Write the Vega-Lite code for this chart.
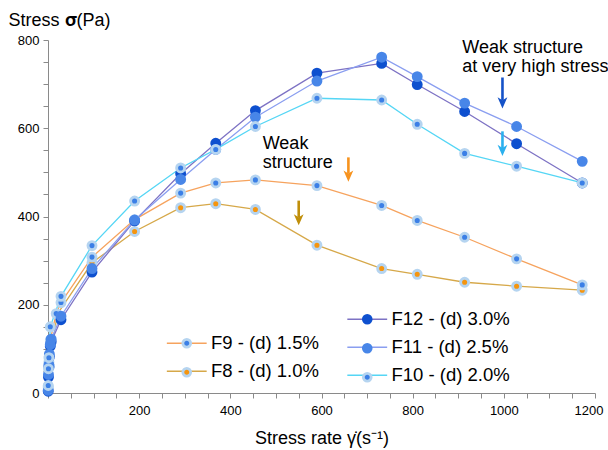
{
  "$schema": "https://vega.github.io/schema/vega-lite/v6.json",
  "width": 547,
  "height": 353,
  "autosize": {"type": "none"},
  "padding": {"left": 48, "top": 40, "right": 13, "bottom": 57},
  "background": "white",
  "config": {
    "view": {"stroke": null},
    "font": "Liberation Sans",
    "axis": {"grid": false, "domainColor": "#8a8a8a", "tickColor": "#8a8a8a", "tickSize": 5, "labelFont": "Liberation Sans", "labelFontSize": 13, "labelColor": "#000000", "titleFont": "Liberation Sans", "titleFontSize": 18, "titleFontWeight": "normal", "titleColor": "#000000"},
    "legend": {"labelFont": "Liberation Sans", "labelFontSize": 18.5, "labelColor": "#000000", "padding": 0, "rowPadding": 9, "symbolSize": 61, "labelOffset": 15}
  },
  "datasets": {
    "curves": [
      {"s": "F8 - (d) 1.0%", "rate": 0.5, "stress": 15},
      {"s": "F8 - (d) 1.0%", "rate": 3, "stress": 60},
      {"s": "F8 - (d) 1.0%", "rate": 20, "stress": 178},
      {"s": "F8 - (d) 1.0%", "rate": 96.5, "stress": 295},
      {"s": "F8 - (d) 1.0%", "rate": 190, "stress": 366},
      {"s": "F8 - (d) 1.0%", "rate": 291, "stress": 420},
      {"s": "F8 - (d) 1.0%", "rate": 368, "stress": 429},
      {"s": "F8 - (d) 1.0%", "rate": 455, "stress": 416},
      {"s": "F8 - (d) 1.0%", "rate": 590, "stress": 335},
      {"s": "F8 - (d) 1.0%", "rate": 732, "stress": 282},
      {"s": "F8 - (d) 1.0%", "rate": 810, "stress": 269},
      {"s": "F8 - (d) 1.0%", "rate": 914, "stress": 251},
      {"s": "F8 - (d) 1.0%", "rate": 1028, "stress": 242},
      {"s": "F8 - (d) 1.0%", "rate": 1172, "stress": 233},
      {"s": "F9 - (d) 1.5%", "rate": 0.5, "stress": 12},
      {"s": "F9 - (d) 1.5%", "rate": 2, "stress": 70},
      {"s": "F9 - (d) 1.5%", "rate": 5, "stress": 120},
      {"s": "F9 - (d) 1.5%", "rate": 18, "stress": 180},
      {"s": "F9 - (d) 1.5%", "rate": 28.5, "stress": 205},
      {"s": "F9 - (d) 1.5%", "rate": 96.5, "stress": 308},
      {"s": "F9 - (d) 1.5%", "rate": 190, "stress": 393},
      {"s": "F9 - (d) 1.5%", "rate": 291, "stress": 453},
      {"s": "F9 - (d) 1.5%", "rate": 368, "stress": 476},
      {"s": "F9 - (d) 1.5%", "rate": 455, "stress": 483},
      {"s": "F9 - (d) 1.5%", "rate": 590, "stress": 470},
      {"s": "F9 - (d) 1.5%", "rate": 732, "stress": 425},
      {"s": "F9 - (d) 1.5%", "rate": 810, "stress": 391},
      {"s": "F9 - (d) 1.5%", "rate": 914, "stress": 353},
      {"s": "F9 - (d) 1.5%", "rate": 1028, "stress": 304},
      {"s": "F9 - (d) 1.5%", "rate": 1172, "stress": 245},
      {"s": "F12 - (d) 3.0%", "rate": 0.5, "stress": 4},
      {"s": "F12 - (d) 3.0%", "rate": 1, "stress": 36},
      {"s": "F12 - (d) 3.0%", "rate": 2, "stress": 59},
      {"s": "F12 - (d) 3.0%", "rate": 3, "stress": 82},
      {"s": "F12 - (d) 3.0%", "rate": 5, "stress": 106},
      {"s": "F12 - (d) 3.0%", "rate": 7, "stress": 116},
      {"s": "F12 - (d) 3.0%", "rate": 28.5, "stress": 166},
      {"s": "F12 - (d) 3.0%", "rate": 96.5, "stress": 274},
      {"s": "F12 - (d) 3.0%", "rate": 190, "stress": 390},
      {"s": "F12 - (d) 3.0%", "rate": 291, "stress": 497},
      {"s": "F12 - (d) 3.0%", "rate": 368, "stress": 566},
      {"s": "F12 - (d) 3.0%", "rate": 455, "stress": 640},
      {"s": "F12 - (d) 3.0%", "rate": 590, "stress": 725},
      {"s": "F12 - (d) 3.0%", "rate": 732, "stress": 747},
      {"s": "F12 - (d) 3.0%", "rate": 810, "stress": 699},
      {"s": "F12 - (d) 3.0%", "rate": 914, "stress": 638},
      {"s": "F12 - (d) 3.0%", "rate": 1028, "stress": 565},
      {"s": "F12 - (d) 3.0%", "rate": 1172, "stress": 476},
      {"s": "F11 - (d) 2.5%", "rate": 0.5, "stress": 6},
      {"s": "F11 - (d) 2.5%", "rate": 1, "stress": 42},
      {"s": "F11 - (d) 2.5%", "rate": 2, "stress": 64},
      {"s": "F11 - (d) 2.5%", "rate": 3, "stress": 88},
      {"s": "F11 - (d) 2.5%", "rate": 5, "stress": 110},
      {"s": "F11 - (d) 2.5%", "rate": 7, "stress": 122},
      {"s": "F11 - (d) 2.5%", "rate": 28.5, "stress": 174},
      {"s": "F11 - (d) 2.5%", "rate": 96.5, "stress": 282},
      {"s": "F11 - (d) 2.5%", "rate": 190, "stress": 392},
      {"s": "F11 - (d) 2.5%", "rate": 291, "stress": 484},
      {"s": "F11 - (d) 2.5%", "rate": 368, "stress": 552},
      {"s": "F11 - (d) 2.5%", "rate": 455, "stress": 625},
      {"s": "F11 - (d) 2.5%", "rate": 590, "stress": 707},
      {"s": "F11 - (d) 2.5%", "rate": 732, "stress": 761},
      {"s": "F11 - (d) 2.5%", "rate": 810, "stress": 717},
      {"s": "F11 - (d) 2.5%", "rate": 914, "stress": 657},
      {"s": "F11 - (d) 2.5%", "rate": 1028, "stress": 604},
      {"s": "F11 - (d) 2.5%", "rate": 1172, "stress": 525},
      {"s": "F10 - (d) 2.0%", "rate": 0.5, "stress": 17},
      {"s": "F10 - (d) 2.0%", "rate": 1, "stress": 55},
      {"s": "F10 - (d) 2.0%", "rate": 2, "stress": 80},
      {"s": "F10 - (d) 2.0%", "rate": 5, "stress": 150},
      {"s": "F10 - (d) 2.0%", "rate": 28.5, "stress": 219},
      {"s": "F10 - (d) 2.0%", "rate": 96.5, "stress": 334},
      {"s": "F10 - (d) 2.0%", "rate": 190, "stress": 435},
      {"s": "F10 - (d) 2.0%", "rate": 291, "stress": 510},
      {"s": "F10 - (d) 2.0%", "rate": 368, "stress": 552},
      {"s": "F10 - (d) 2.0%", "rate": 455, "stress": 604},
      {"s": "F10 - (d) 2.0%", "rate": 590, "stress": 668},
      {"s": "F10 - (d) 2.0%", "rate": 732, "stress": 664},
      {"s": "F10 - (d) 2.0%", "rate": 810, "stress": 609},
      {"s": "F10 - (d) 2.0%", "rate": 914, "stress": 543},
      {"s": "F10 - (d) 2.0%", "rate": 1028, "stress": 514},
      {"s": "F10 - (d) 2.0%", "rate": 1172, "stress": 476}
    ],
    "arrows": [
      {"a": "high", "rate": 997, "stress": 715, "end": 663, "tip": 645},
      {"a": "highcyan", "rate": 997, "stress": 593, "end": 555, "tip": 537},
      {"a": "weakorange", "rate": 659, "stress": 534, "end": 497, "tip": 479},
      {"a": "weakgold", "rate": 550, "stress": 436, "end": 398, "tip": 380}
    ],
    "notes": [
      {"t": "Weak\nstructure", "rate": 471, "stress": 553},
      {"t": "Weak structure\nat very high stress", "rate": 909, "stress": 770}
    ]
  },
  "encoding": {
    "x": {"field": "rate", "type": "quantitative", "scale": {"domain": [0, 1200], "nice": false},
      "axis": {"values": [0,50,100,150,200,250,300,350,400,450,500,550,600,650,700,750,800,850,900,950,1000,1050,1100,1150,1200], "labelExpr": "datum.value % 200 == 0 && datum.value > 0 ? datum.label : ''", "format": "d", "labelPadding": 6, "labelFlushOffset": 8, "title": "Stress rate γ̇(s⁻¹)", "titleBaseline": "alphabetic", "titleY": 50}},
    "y": {"field": "stress", "type": "quantitative", "scale": {"domain": [0, 800], "nice": false},
      "axis": {"values": [0,50,100,150,200,250,300,350,400,450,500,550,600,650,700,750,800], "labelExpr": "datum.value % 200 == 0 ? datum.label : ''", "format": "d", "labelPadding": 4, "title": "Stress 𝛔(Pa)", "titleAngle": 0, "titleAlign": "left", "titleBaseline": "alphabetic", "titleX": -40, "titleY": -15}}
  },
  "layer": [
    {
      "data": {"name": "curves"},
      "transform": [{"filter": {"field": "s", "oneOf": ["F9 - (d) 1.5%", "F8 - (d) 1.0%"]}}],
      "mark": {"type": "line", "interpolate": "linear", "strokeWidth": 1.3},
      "encoding": {
        "color": {"field": "s", "type": "nominal", "scale": {"domain": ["F9 - (d) 1.5%", "F8 - (d) 1.0%"], "range": ["#f6a35e", "#d6a849"]},
          "legend": {"title": null, "orient": "none", "legendX": 129.5, "legendY": 294, "symbolType": "M-5.1,0H5.1", "symbolStrokeWidth": 1.6}}
      }
    },
    {
      "data": {"name": "curves"},
      "transform": [{"filter": {"field": "s", "oneOf": ["F12 - (d) 3.0%", "F11 - (d) 2.5%", "F10 - (d) 2.0%"]}}],
      "mark": {"type": "line", "interpolate": "linear", "strokeWidth": 1.3},
      "encoding": {
        "color": {"field": "s", "type": "nominal", "scale": {"domain": ["F12 - (d) 3.0%", "F11 - (d) 2.5%", "F10 - (d) 2.0%"], "range": ["#7d72c4", "#8a9ef0", "#55d6f5"]},
          "legend": {"title": null, "orient": "none", "legendX": 310, "legendY": 270, "symbolType": "M-5.1,0H5.1", "symbolStrokeWidth": 1.6}}
      }
    },
    {
      "data": {"name": "curves"},
      "transform": [{"filter": {"field": "s", "oneOf": ["F9 - (d) 1.5%", "F8 - (d) 1.0%"]}}],
      "mark": {"type": "point", "filled": true, "size": 64, "strokeWidth": 2.9, "opacity": 1},
      "encoding": {
        "fill": {"field": "s", "type": "nominal", "scale": {"domain": ["F9 - (d) 1.5%", "F8 - (d) 1.0%"], "range": ["#3b7fe6", "#f5950f"]},
          "legend": {"title": null, "orient": "none", "legendX": 129.5, "legendY": 294, "symbolType": "circle", "symbolStrokeWidth": 2.8, "labelExpr": "''"}},
        "stroke": {"field": "s", "type": "nominal", "scale": {"domain": ["F9 - (d) 1.5%", "F8 - (d) 1.0%"], "range": ["#b5d4f0", "#b5d4f0"]},
          "legend": {"title": null, "orient": "none", "legendX": 129.5, "legendY": 294, "symbolType": "circle", "symbolStrokeWidth": 2.8, "labelExpr": "''"}}
      }
    },
    {
      "data": {"name": "curves"},
      "transform": [{"filter": {"field": "s", "oneOf": ["F12 - (d) 3.0%", "F11 - (d) 2.5%", "F10 - (d) 2.0%"]}}],
      "mark": {"type": "point", "filled": true, "size": 64, "strokeWidth": 2.9, "opacity": 1},
      "encoding": {
        "fill": {"field": "s", "type": "nominal", "scale": {"domain": ["F12 - (d) 3.0%", "F11 - (d) 2.5%", "F10 - (d) 2.0%"], "range": ["#0e50cf", "#4886e8", "#3b7fe6"]},
          "legend": {"title": null, "orient": "none", "legendX": 310, "legendY": 270, "symbolType": "circle", "symbolStrokeWidth": 2.8, "labelExpr": "''"}},
        "stroke": {"field": "s", "type": "nominal", "scale": {"domain": ["F12 - (d) 3.0%", "F11 - (d) 2.5%", "F10 - (d) 2.0%"], "range": ["#0e50cf", "#4886e8", "#b5d4f0"]},
          "legend": {"title": null, "orient": "none", "legendX": 310, "legendY": 270, "symbolType": "circle", "symbolStrokeWidth": 2.8, "labelExpr": "''"}}
      }
    },
    {
      "data": {"name": "arrows"},
      "mark": {"type": "rule", "strokeWidth": 2.6},
      "encoding": {
        "y2": {"field": "end"},
        "color": {"field": "a", "type": "nominal", "scale": {"domain": ["high", "highcyan", "weakorange", "weakgold"], "range": ["#1552c8", "#2ab0ee", "#f7931e", "#c08f0a"]}, "legend": null}
      }
    },
    {
      "data": {"name": "arrows"},
      "mark": {"type": "point", "filled": true, "opacity": 1, "size": 196, "shape": "M0,0L-0.7,-1.6L0,-1.15L0.7,-1.6Z"},
      "encoding": {
        "y": {"field": "tip", "type": "quantitative", "title": "Stress 𝛔(Pa)"},
        "color": {"field": "a", "type": "nominal", "scale": {"domain": ["high", "highcyan", "weakorange", "weakgold"], "range": ["#1552c8", "#2ab0ee", "#f7931e", "#c08f0a"]}, "legend": null}
      }
    },
    {
      "data": {"name": "notes"},
      "mark": {"type": "text", "align": "left", "baseline": "alphabetic", "fontSize": 18, "font": "Liberation Sans", "color": "#000000", "lineBreak": "\n", "lineHeight": 19},
      "encoding": {
        "text": {"field": "t", "type": "nominal"}
      }
    }
  ],
  "resolve": {"scale": {"color": "independent", "fill": "independent", "stroke": "independent"}}
}
